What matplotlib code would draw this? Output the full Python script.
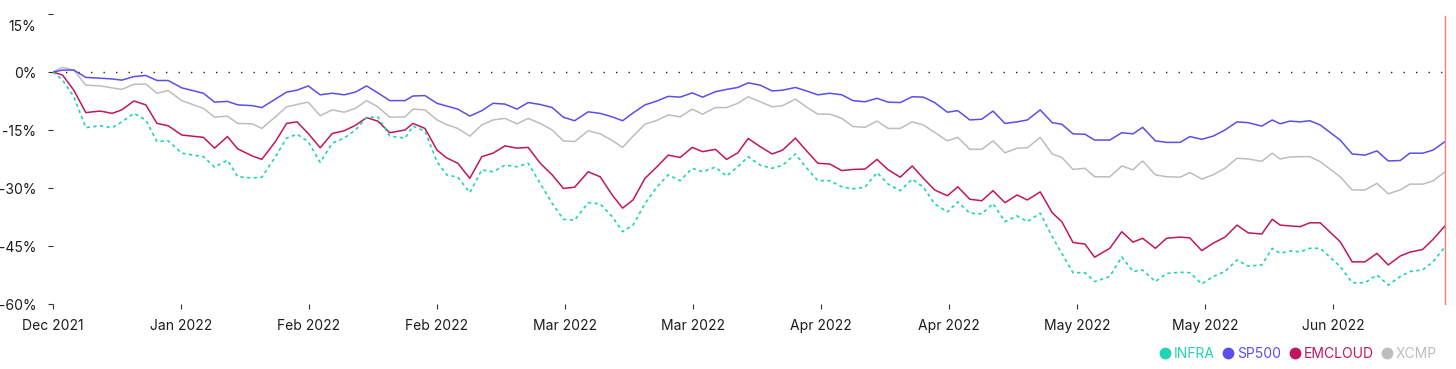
import matplotlib.pyplot as plt
from matplotlib.lines import Line2D

# days since 31 Dec 2021
days = [0, 1.2, 2.6, 4.1, 5.9, 7.4, 8.6, 10.1, 11.6, 13, 14.4, 16.1, 18.8, 20.2, 21.8,
        23.1, 24.9, 26.1, 27.8, 29.2, 30.5, 31.9, 33.4, 34.9, 36.4, 37.8, 39.2, 40.6, 42.1, 44,
        45, 46.5, 48, 49.2, 50.6, 52.1, 53.6, 55, 56.5, 58, 59.4, 60.9, 62.4, 63.8, 65.2,
        66.9, 68.4, 69.9, 71.2, 72.5, 74, 75.5, 76.9, 78.4, 79.9, 81.2, 82.8, 84.2, 85.6, 86.9,
        88.4, 89.9, 91.2, 92.8, 94.2, 95.6, 97.1, 98.6, 100, 101.5, 103, 104.4, 105.9, 107.4, 108.8,
        110.2, 111.8, 113.1, 114.6, 116.1, 117.5, 119, 120.5, 121.8, 123.4, 124.9, 126.1, 127.5, 129, 130.2,
        132.1, 133.6, 135, 136.2, 137.8, 139.2, 140.9, 142.1, 143.6, 145, 146.5, 148, 149.4, 151.1, 152.4, 153.4,
        154.6, 155.9, 157.1, 158.4, 160.9, 162.4, 164, 165.5, 166.9, 168.4, 169.6, 171.2, 172.5, 174]

sp500 = [0, 0.5, 0.5, -1.4, -1.6, -1.8, -2.1, -1.2, -0.9, -2.2, -2.2, -4.1, -5.5, -7.8, -7.6,
         -8.5, -8.7, -9.2, -7.0, -5.2, -4.7, -3.6, -5.9, -5.5, -5.9, -5.2, -3.6, -5.4, -7.4, -7.4,
         -6.2, -6.1, -8.1, -8.8, -9.6, -11.4, -10.0, -8.1, -8.3, -9.6, -7.9, -8.4, -9.2, -11.7, -12.6,
         -10.3, -10.7, -11.6, -12.6, -10.6, -8.5, -7.5, -6.3, -6.5, -5.4, -6.5, -5.1, -4.5, -4.0, -2.8,
         -3.4, -4.9, -4.7, -4.0, -4.9, -5.9, -5.5, -5.9, -7.4, -7.7, -6.8, -7.8, -7.9, -6.4, -6.5,
         -7.9, -10.4, -10.0, -12.4, -12.2, -10.1, -13.3, -12.9, -12.4, -9.8, -13.1, -13.5, -16.0, -16.1, -17.6,
         -17.6, -15.7, -16.0, -14.3, -17.8, -18.2, -18.2, -16.7, -17.4, -16.6, -15.0, -12.9, -13.1, -14.0, -12.4, -13.4,
         -12.7, -12.9, -12.6, -13.7, -17.6, -21.2, -21.5, -20.4, -23.0, -22.9, -21.0, -21.0, -20.2, -18.0]

xcmp = [0, 1.2, 0.5, -3.4, -3.6, -4.1, -4.5, -3.2, -3.1, -5.5, -4.8, -7.4, -9.4, -11.7, -11.4,
        -13.3, -13.4, -14.6, -11.6, -9.0, -8.4, -7.8, -11.3, -9.8, -10.4, -9.4, -7.4, -9.0, -11.7, -11.6,
        -9.6, -9.8, -12.4, -13.6, -14.6, -16.6, -13.7, -12.4, -12.0, -13.4, -12.0, -13.3, -15.0, -17.8, -18.0,
        -15.2, -16.0, -17.7, -19.5, -16.6, -13.5, -12.5, -11.1, -11.6, -9.6, -10.9, -9.2, -9.2, -8.1, -6.4,
        -7.7, -9.0, -8.7, -7.0, -9.1, -10.9, -10.9, -12.0, -14.1, -14.3, -12.7, -14.6, -14.6, -12.9, -13.7,
        -15.6, -17.8, -16.9, -20.0, -20.0, -17.8, -20.9, -19.7, -19.6, -16.9, -21.2, -22.1, -25.2, -24.9, -27.1,
        -27.1, -24.3, -25.3, -23.0, -26.6, -27.1, -27.2, -26.0, -27.7, -26.6, -24.9, -22.3, -22.5, -23.1, -21.0, -22.5,
        -22.0, -21.9, -21.9, -23.2, -27.1, -30.5, -30.5, -28.8, -31.5, -30.5, -29.0, -29.0, -28.2, -25.8]

emcloud = [0, -0.8, -4.7, -10.5, -10.1, -10.7, -9.8, -7.5, -8.5, -13.3, -13.9, -16.3, -16.9, -19.7, -16.7,
           -19.9, -21.7, -22.6, -18.0, -13.3, -12.9, -15.9, -19.6, -15.9, -15.2, -13.8, -11.8, -12.7, -15.7, -15.0,
           -13.3, -14.6, -20.2, -22.2, -23.6, -27.5, -21.9, -21.0, -19.1, -19.7, -19.5, -23.6, -26.6, -30.1, -29.8,
           -25.8, -27.1, -31.8, -35.2, -33.1, -27.5, -24.5, -21.5, -22.1, -19.5, -20.6, -20.0, -22.6, -20.9, -17.2,
           -19.3, -21.2, -20.2, -17.1, -20.4, -23.6, -23.8, -25.5, -25.2, -25.1, -22.6, -25.3, -27.2, -24.3, -27.5,
           -30.5, -32.0, -29.7, -32.9, -33.3, -30.7, -33.8, -31.8, -33.1, -31.0, -36.4, -38.7, -44.1, -44.5, -47.9,
           -45.6, -41.3, -44.0, -43.0, -45.6, -43.0, -42.7, -42.9, -46.2, -44.3, -42.7, -39.6, -41.6, -41.9, -38.1, -39.6,
           -39.8, -40.0, -39.0, -39.0, -43.9, -49.1, -49.1, -46.9, -49.9, -47.6, -46.6, -45.9, -43.3, -39.8]

infra = [0, -2.1, -6.4, -14.4, -13.9, -14.4, -12.9, -10.7, -12.4, -18.0, -17.8, -21.0, -21.9, -24.6, -22.8,
         -27.1, -27.4, -27.2, -21.9, -17.1, -16.1, -18.0, -23.4, -18.4, -17.1, -15.0, -11.8, -11.6, -16.6, -17.1,
         -14.0, -15.3, -23.2, -26.6, -27.2, -31.2, -25.3, -25.8, -24.1, -24.5, -23.6, -28.8, -34.0, -38.1, -38.3,
         -33.8, -34.1, -37.4, -41.3, -39.6, -34.0, -29.7, -26.6, -28.1, -24.9, -25.8, -24.6, -26.9, -24.5, -21.9,
         -24.1, -24.9, -24.1, -21.2, -24.8, -28.1, -28.1, -29.7, -30.2, -29.8, -26.0, -29.0, -30.7, -27.7, -29.8,
         -34.1, -36.2, -33.6, -36.5, -36.7, -34.0, -38.7, -37.2, -38.7, -36.5, -42.6, -46.9, -51.9, -51.9, -54.2,
         -52.9, -47.8, -51.6, -51.2, -54.2, -52.1, -51.8, -51.9, -54.8, -52.9, -51.6, -48.6, -50.2, -49.9, -45.6, -46.9,
         -46.3, -46.5, -45.6, -45.6, -50.3, -54.5, -54.5, -52.5, -55.1, -52.9, -51.6, -51.2, -49.1, -45.2]

tick_days = [0, 16, 32, 48, 64, 80, 96, 112, 128, 144, 160]
tick_labels = ['Dec 2021', 'Jan 2022', 'Feb 2022', 'Feb 2022', 'Mar 2022', 'Mar 2022',
               'Apr 2022', 'Apr 2022', 'May 2022', 'May 2022', 'Jun 2022']
y_ticks = [-60, -45, -30, -15, 0, 15]

names = ['INFRA', 'SP500', 'EMCLOUD', 'XCMP']
colors = {'INFRA': '#22d3b4', 'SP500': '#5a4fe8', 'EMCLOUD': '#bf1660', 'XCMP': '#bdbdbd'}

plt.rcParams['font.family'] = ['Inter', 'DejaVu Sans']
text_color = '#1c1c1c'

fig = plt.figure(figsize=(14.56, 3.69), dpi=100)
ax = fig.add_axes([53 / 1456, 1 - 304 / 369, 1392 / 1456, 290 / 369])

ax.axhline(0, color='#222222', lw=1, ls=(0, (1, 8)), zorder=1)
ax.axvline(174, ymin=0.0, ymax=0.993, color='#ff7a7a', lw=1.0, zorder=6, clip_on=False)

ax.plot(days, xcmp, color=colors['XCMP'], lw=1.1, zorder=2)
ax.plot(days, sp500, color=colors['SP500'], lw=1.1, zorder=3)
ax.plot(days, emcloud, color=colors['EMCLOUD'], lw=1.1, zorder=4)
ax.plot(days, infra, color=colors['INFRA'], lw=1.2, ls=(0, (2, 2)), zorder=5)

ax.set_xlim(0, 174)
ax.set_ylim(-60, 15)
for s in ax.spines.values():
    s.set_visible(False)

ax.set_xticks(tick_days)
ax.set_xticklabels(tick_labels)
ax.set_yticks(y_ticks)
ax.set_yticklabels([f'{v}%' for v in y_ticks[:-1]] + [''])
ax.tick_params(axis='both', length=3.6, width=0.8, color='#333333',
               labelsize=10, labelcolor=text_color)
ax.tick_params(axis='y', pad=8.3)
ax.tick_params(axis='x', pad=7)

# the top label sits a little under its tick in the original
ax.annotate('15%', xy=(0, 15), xycoords=ax.get_yaxis_transform(),
            xytext=(-11.9, -9.4), textcoords='offset points',
            ha='right', va='center', fontsize=10, color=text_color)

handles = [Line2D([], [], marker='o', ls='', markersize=7.5, color=colors[n]) for n in names]
fig.legend(handles, names, loc='center right', bbox_to_anchor=(1437 / 1456, 1 - 354 / 369),
           ncol=4, frameon=False, fontsize=10, labelcolor=[colors[n] for n in names],
           handletextpad=0.15, columnspacing=0.45, handlelength=1.0, borderpad=0, borderaxespad=0)

fig.savefig('out.png', dpi=100)
